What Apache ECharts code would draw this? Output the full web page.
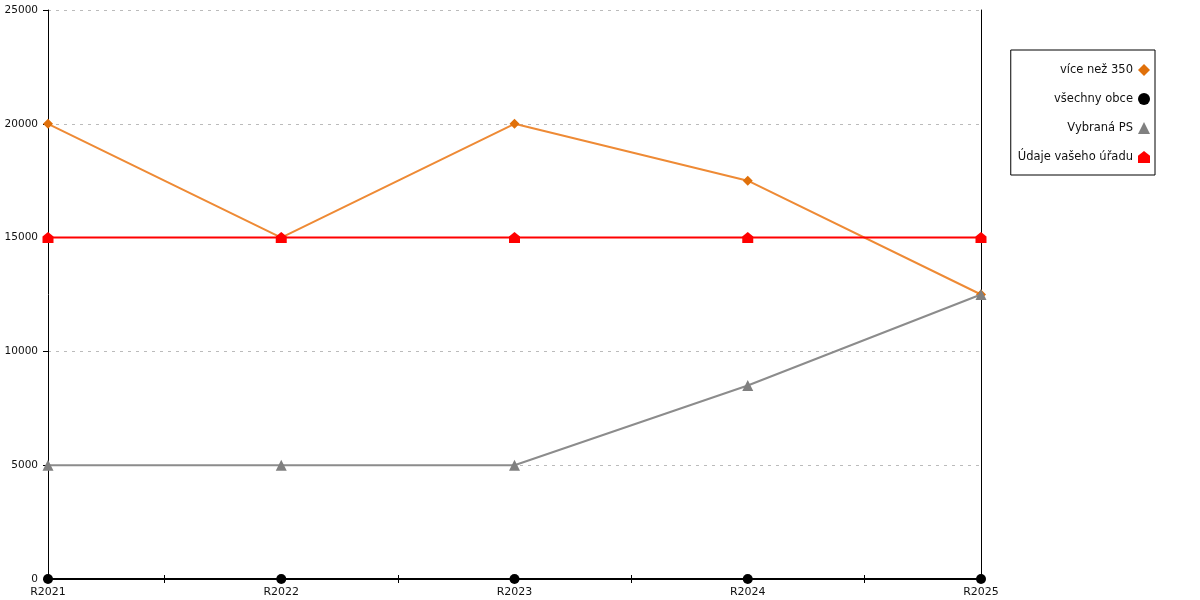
<!DOCTYPE html>
<html><head><meta charset="utf-8">
<script src="https://cdn.jsdelivr.net/npm/echarts@6/dist/echarts.min.js"></script>
<style>html,body{margin:0;padding:0;background:#fff}#c{width:1200px;height:600px}</style>
</head><body><div id="c"></div>
<script>
const categories = ['R2021','R2022','R2023','R2024','R2025'];
const viceNez350 = [20000,15000,20000,17500,12500];
const vsechnyObce = [0,0,0,0,0];
const vybranaPS = [5000,5000,5000,8500,12500];
const udajeUradu = [15000,15000,15000,15000,15000];
const midTicks = [0.5,1.5,2.5,3.5];

const house = 'path://M0,4 L5,0 L10,4 L10,10 L0,10 Z';
const font = 'DejaVu Sans';
const chart = echarts.init(document.getElementById('c'));
const tickAxis = (inside) => ({
  type:'value', min:0, max:categories.length-1, position:'bottom',
  axisLine:{show:false}, axisLabel:{show:false}, splitLine:{show:false},
  axisTick:{show:true, inside:inside, length:4, customValues:midTicks, lineStyle:{color:'#000',width:1}}
});
chart.setOption({
  animation:false,
  textStyle:{fontFamily:font},
  grid:{left:48,right:219,top:10,bottom:21,containLabel:false},
  legend:{
    orient:'vertical', right:45, top:50, align:'right',
    borderColor:'#000', borderWidth:1, padding:[14,5,12,7],
    itemGap:17, itemWidth:12, itemHeight:12,
    textStyle:{fontFamily:font,fontSize:11.5,color:'#111'},
    data:[
      {name:'více než 350', icon:'diamond'},
      {name:'všechny obce', icon:'circle'},
      {name:'Vybraná PS', icon:'triangle'},
      {name:'Údaje vašeho úřadu', icon:house}
    ]
  },
  xAxis:[
    {type:'category', data:categories, boundaryGap:false,
     axisLine:{onZero:false,lineStyle:{color:'#000',width:1}}, axisTick:{show:false},
     axisLabel:{color:'#111',fontFamily:font,fontSize:11,margin:8, interval:0},
     splitLine:{show:false}},
    tickAxis(false), tickAxis(true)
  ],
  yAxis:[
    {type:'value', min:0, max:25000, interval:5000,
     axisLine:{show:true,onZero:false,lineStyle:{color:'#000'}},
     axisTick:{show:true,length:5,lineStyle:{color:'#000'}},
     axisLabel:{color:'#111',fontFamily:font,fontSize:10.5,margin:10,formatter:v=>String(v)},
     splitLine:{show:true,lineStyle:{color:'#bbb',type:[3,5],width:1}}},
    {type:'value', min:0, max:25000, interval:5000, position:'right',
     axisLine:{show:true,onZero:false,lineStyle:{color:'#000'}},
     axisTick:{show:false}, axisLabel:{show:false}, splitLine:{show:false}}
  ],
  series:[
    {name:'více než 350', type:'line', data:viceNez350, symbol:'diamond', symbolSize:10,
     itemStyle:{color:'#e0700a'}, lineStyle:{color:'#ee8a35',width:2}, z:2},
    {name:'všechny obce', type:'line', data:vsechnyObce, symbol:'circle', symbolSize:10,
     itemStyle:{color:'#000'}, lineStyle:{color:'#000',width:2}, z:3},
    {name:'Vybraná PS', type:'line', data:vybranaPS, symbol:'triangle', symbolSize:11,
     itemStyle:{color:'#808080'}, lineStyle:{color:'#8c8c8c',width:2}, z:4},
    {name:'Údaje vašeho úřadu', type:'line', data:udajeUradu, symbol:house, symbolSize:11,
     itemStyle:{color:'#ff0000'}, lineStyle:{color:'#ff0000',width:2}, z:5}
  ]
});
</script></body></html>
